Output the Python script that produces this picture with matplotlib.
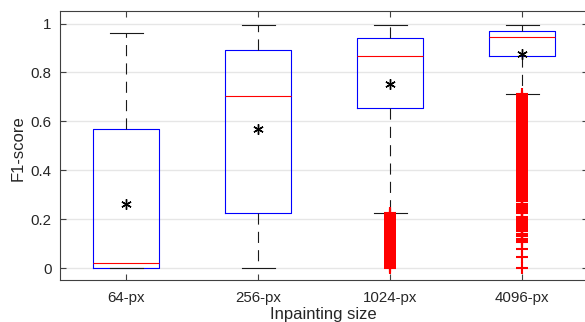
import matplotlib
matplotlib.use("Agg")
import matplotlib.pyplot as plt

plt.rcParams['font.family'] = ['Liberation Sans', 'DejaVu Sans']

categories = ['64-px', '256-px', '1024-px', '4096-px']
q1 = [0.0, 0.224, 0.654, 0.868]
med = [0.02, 0.702, 0.868, 0.946]
q3 = [0.567, 0.890, 0.940, 0.970]
whislo = [0.0, 0.0, 0.226, 0.713]
whishi = [0.963, 0.992, 0.995, 0.996]
means = [0.261, 0.567, 0.751, 0.876]
fliers_64 = []
fliers_256 = []
fliers_1024 = [0.0, 0.005, 0.01, 0.015, 0.02, 0.025, 0.03, 0.035, 0.04, 0.045,
               0.05, 0.055, 0.06, 0.065, 0.07, 0.075, 0.08, 0.085, 0.09, 0.095,
               0.10, 0.105, 0.11, 0.115, 0.12, 0.125, 0.13, 0.135, 0.14, 0.145,
               0.15, 0.155, 0.16, 0.165, 0.17, 0.175, 0.18, 0.185, 0.19, 0.195,
               0.20, 0.205, 0.21, 0.215, 0.22, 0.225]
fliers_4096 = [0.0, 0.044, 0.079, 0.107, 0.112, 0.118, 0.13, 0.135, 0.14,
               0.15, 0.155, 0.16, 0.165, 0.17, 0.175, 0.18, 0.185, 0.19, 0.195,
               0.20, 0.205, 0.21, 0.225, 0.23, 0.235, 0.24, 0.245, 0.25,
               0.255, 0.26, 0.275, 0.28, 0.285, 0.29, 0.295, 0.30, 0.305,
               0.31, 0.315, 0.32, 0.325, 0.33, 0.335, 0.34, 0.345, 0.35, 0.355,
               0.36, 0.365, 0.37, 0.375, 0.38, 0.385, 0.39, 0.395, 0.40, 0.405,
               0.41, 0.415, 0.42, 0.425, 0.43, 0.435, 0.44, 0.445, 0.45, 0.455,
               0.46, 0.465, 0.47, 0.475, 0.48, 0.485, 0.49, 0.495, 0.50, 0.505,
               0.51, 0.515, 0.52, 0.525, 0.53, 0.535, 0.54, 0.545, 0.55, 0.555,
               0.56, 0.565, 0.57, 0.575, 0.58, 0.585, 0.59, 0.595, 0.60, 0.605,
               0.61, 0.615, 0.62, 0.625, 0.63, 0.635, 0.64, 0.645, 0.65, 0.655,
               0.66, 0.665, 0.67, 0.675, 0.68, 0.685, 0.69, 0.695, 0.70, 0.705,
               0.71]
fliers = [fliers_64, fliers_256, fliers_1024, fliers_4096]
yticks = [0, 0.2, 0.4, 0.6, 0.8, 1]
ytick_labels = ['0', '0.2', '0.4', '0.6', '0.8', '1']

fig = plt.figure(figsize=(5.85, 3.22), dpi=100)
ax = fig.add_axes([60/585, 1-280.3/322, 528/585, 269/322])

stats = []
for i in range(len(categories)):
    stats.append(dict(q1=q1[i], med=med[i], q3=q3[i], whislo=whislo[i],
                      whishi=whishi[i], fliers=fliers[i], mean=means[i],
                      label=categories[i]))

positions = list(range(1, len(categories) + 1))
ax.bxp(stats, positions=positions, widths=0.5, showmeans=True,
       boxprops=dict(color='#0000ff', linewidth=0.8),
       medianprops=dict(color='#ff0000', linewidth=0.8),
       whiskerprops=dict(color='#1a1a1a', linewidth=0.8, linestyle=(0, (10, 6.5))),
       capprops=dict(color='#1a1a1a', linewidth=0.8),
       capwidths=0.25,
       flierprops=dict(marker='+', markeredgecolor='#ff0000', markersize=8,
                       markeredgewidth=1.5, linestyle='none'),
       meanprops=dict(marker=(6, 2, 0), markeredgecolor='black',
                      markerfacecolor='black', markersize=7.5, markeredgewidth=1.0))

ax.set_xlim(0.5, 4.5)
ax.set_ylim(-0.05, 1.05)
ax.set_yticks(yticks)
ax.set_yticklabels(ytick_labels)
ax.set_xticks(positions)
ax.set_xticklabels(categories)
ax.yaxis.grid(True, color='#e6e6e6', linewidth=1.0)
ax.set_axisbelow(True)
ax.tick_params(axis='both', direction='in', length=4, width=0.8, color='#404040',
               labelsize=10.8, labelcolor='#262626', top=True, right=True)
ax.tick_params(axis='x', pad=8)
ax.tick_params(axis='y', pad=6)
for s in ax.spines.values():
    s.set_color('#404040')
    s.set_linewidth(0.8)

fig.text(18/585, 1-148/322, 'F1-score', rotation=90, ha='center', va='center',
         fontsize=12, color='#262626')
fig.text(323/585, 1-307/322, 'Inpainting size', ha='center', va='top',
         fontsize=12, color='#262626')

fig.savefig('out.png', dpi=100)
